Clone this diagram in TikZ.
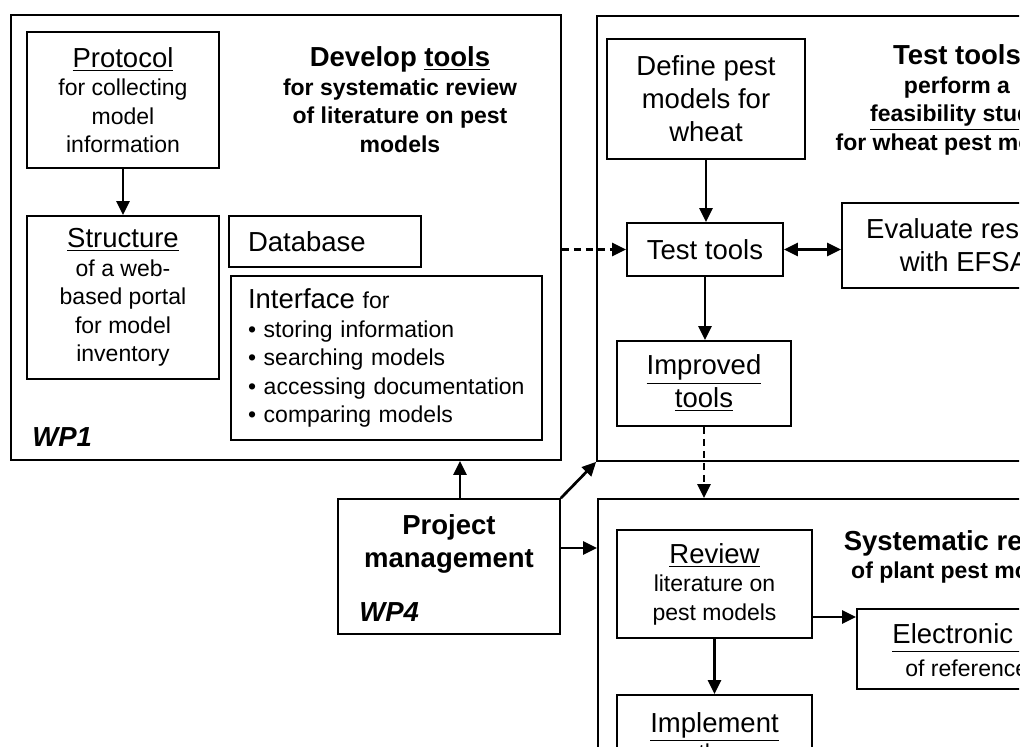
\documentclass[tikz,border=0pt]{standalone}
\usepackage{fontspec}
\setmainfont{Liberation Sans}
\usetikzlibrary{arrows.meta}
\newcommand{\bigf}{\fontsize{13.75}{16.5}\selectfont}
\newcommand{\smallf}{\fontsize{11.5}{14.25}\selectfont}
\begin{document}
\begin{tikzpicture}[x=0.5pt,y=-0.5pt]
		\tikzstyle{box} = [draw, line width=0.85pt, inner sep=0pt, align=center, font=\smallf]
		\tikzstyle{arr} = [-{Triangle[length=7pt,width=6.5pt]}, line width=1.35pt]
		\tikzstyle{arrboth} = [{Triangle[length=7pt,width=6.5pt]}-{Triangle[length=7pt,width=6.5pt]}, line width=1.35pt]
		\tikzstyle{dasharr} = [arr, dash pattern=on 3.5pt off 2.5pt]
		\tikzstyle{title} = [inner sep=0pt, align=center, font=\smallf\bfseries]
		\tikzstyle{wplabel} = [anchor=west, inner sep=0pt, font=\bigf\bfseries\itshape]
		\useasboundingbox (0,0) rectangle (1026,747);
		\clip (0,0) rectangle (1019,746);
		
		\node [box, minimum width=275pt, minimum height=222.5pt] (wp1) at (286,237.5) {};
		\node [box, minimum width=96pt, minimum height=68pt] (prot) at (123,100) {{\bigf\underline{Protocol}}\\for collecting\\model\\information};
		\node [box, minimum width=96pt, minimum height=81.5pt] (struc) at (123,297.5) {{\bigf\underline{Structure}}\\of a web-\\based portal\\for model\\inventory};
		\node [box, font=\bigf, align=left, inner xsep=9.5pt, text width=77pt, minimum height=25.5pt] (db) at (325,241.5) {Database};
		\node [box, align=left, inner xsep=8.5pt, text width=138.5pt, minimum height=82pt] (intf) at (386.5,358) {{\bigf Interface} for\\\textbullet{} storing information\\\textbullet{} searching models\\\textbullet{} accessing documentation\\\textbullet{} comparing models};
		\node [wplabel] (wp1lbl) at (32,437) {WP1};
		\node [title] (devt) at (400,99.5) {{\bigf Develop \underline{tools}}\\for systematic review\\of literature on pest\\models};
		
		\node [box, minimum width=251.5pt, minimum height=222.5pt] (wp2) at (848.5,238.5) {};
		\node [box, font=\bigf, minimum width=99pt, minimum height=60pt] (def) at (706,99) {Define pest\\models for\\wheat};
		\node [box, font=\bigf, minimum width=78pt, minimum height=26.5pt] (tt) at (705,249.5) {Test tools};
		\node [box, font=\bigf, minimum width=122pt, minimum height=42.5pt] (eval) at (964,245.5) {Evaluate results\\with EFSA};
		\node [box, font=\bigf, minimum width=87pt, minimum height=42.5pt] (impr) at (704,383.5) {\underline{Improved}\\\underline{tools}};
		\node [title] (testt) at (957,100) {{\bigf Test tools}\\perform a\\\underline{feasibility study}\\for wheat pest models};
		
		\node [box, minimum width=111pt, minimum height=67.5pt] (pm) at (449,566.5) {};
		\node [inner sep=0pt, align=center, font=\bigf\bfseries] (pmt) at (449,544) {Project\\management};
		\node [wplabel] (wp4) at (359,612) {WP4};
		
		\node [box, minimum width=251pt, minimum height=175.5pt] (wp3) at (849,674.5) {};
		\node [title] (syst) at (963,557) {{\bigf Systematic review}\\of plant pest models};
		\node [box, minimum width=97.5pt, minimum height=54pt] (rev) at (714.5,584) {{\bigf\underline{Review}}\\literature on\\pest models};
		\node [box, minimum width=120pt, minimum height=40pt] (elec) at (977,649) {};
		\node [anchor=west, inner sep=0pt, font=\bigf] (elect) at (892,638) {\underline{Electronic library}};
		\node [anchor=west, inner sep=0pt, font=\smallf] (elecs) at (905,668) {of references};
		\node [box, minimum width=97.5pt, minimum height=52.5pt] (impl) at (714.5,747.5) {};
		\node [inner sep=0pt, align=center, font=\smallf, anchor=north] (implt) at (714.5,712) {{\bigf\underline{Implement}}\\the};
		
		\draw [arr] (prot.south) -- (struc.north);
		\draw [dasharr] (tt.west -| wp1.east) -- (tt.west);
		\draw [arr] (def.south) -- (def.south |- tt.north);
		\draw [arrboth] (tt.east) -- (tt.east -| eval.west);
		\draw [arr] (tt.south) -- (tt.south |- impr.north);
		\draw [dasharr] (impr.south) -- (impr.south |- wp3.north);
		\draw [arr] ([xshift=5.5pt]pm.north) -- ([xshift=5.5pt]pm.north |- wp1.south);
		\draw [arr] (pm.north east) -- (wp2.south west);
		\draw [arr] ([yshift=9.25pt]pm.east) -- ([yshift=9.25pt]pm.east -| wp3.west);
		\draw [arr] ([yshift=-16.5pt]rev.east) -- ([yshift=-16.5pt]rev.east -| elec.west);
		\draw [arr] (rev.south) -- (impl.north);
\end{tikzpicture}
\end{document}
